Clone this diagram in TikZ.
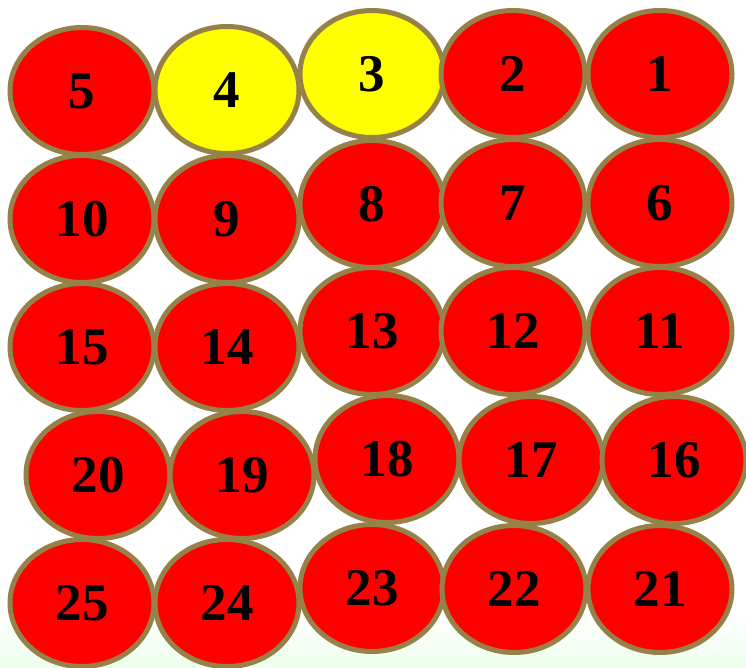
\documentclass[tikz,border=0pt]{standalone}
\usepackage{fontspec}
\setmainfont{Liberation Serif}
\usepackage{xcolor}
\usetikzlibrary{shapes.geometric}
\definecolor{rimolive}{RGB}{150,130,72}
\definecolor{ballred}{RGB}{255,0,0}
\definecolor{ballyellow}{RGB}{255,255,0}

\begin{document}
\begin{tikzpicture}[x=1pt, y=-1pt, every node/.style={font=\fontsize{53}{58}\selectfont\bfseries},
  ball/.style={ellipse, draw=rimolive, line width=5pt, minimum width=144pt, minimum height=127pt, inner sep=0pt}]
  \useasboundingbox (0,0) rectangle (746,668);
  % faint grass behind the lowest row
  \fill[top color=white, bottom color=green!7!white] (0,610) rectangle (746,668);
  % balls: number/x/y/colour
  \foreach \n/\x/\y/\c in {5/82/91/ballred, 4/227/90/ballyellow, 3/372/74/ballyellow, 2/513/74/ballred, 1/660/74/ballred,
      10/82/219/ballred, 9/227/219/ballred, 8/372/204/ballred, 7/513/203/ballred, 6/660/203/ballred,
      15/82/347/ballred, 14/227/347/ballred, 13/372/331/ballred, 12/513/331/ballred, 11/660/331/ballred,
      20/98/475/ballred, 19/242/475/ballred, 18/387/459/ballred, 17/531/460/ballred, 16/674/460/ballred,
      25/82/603/ballred, 24/227/603/ballred, 23/372/588/ballred, 22/514/589/ballred, 21/660/589/ballred} {
    \node[ball, fill=\c] (b\n) at (\x,\y) {\n};
  }
\end{tikzpicture}
\end{document}
